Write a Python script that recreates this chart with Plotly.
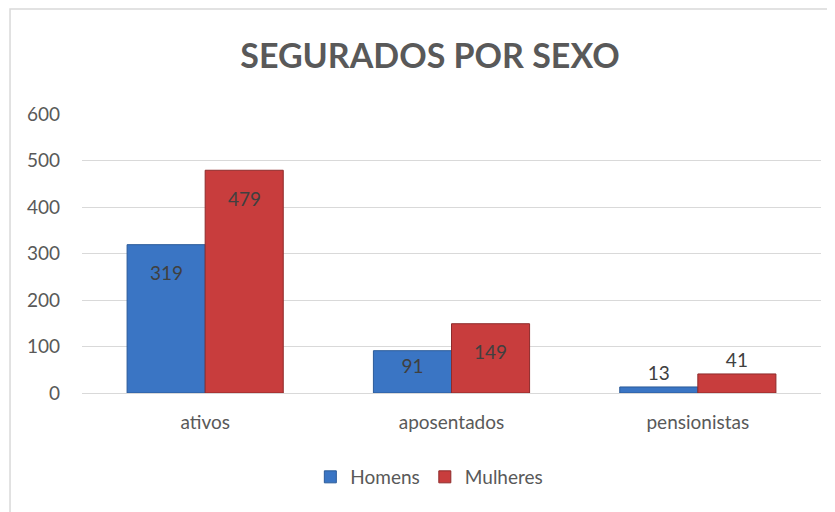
import plotly.graph_objects as go

categories = ["ativos", "aposentados", "pensionistas"]
homens = [319, 91, 13]
mulheres = [479, 149, 41]
series_names = ["Homens", "Mulheres"]
title_text = "SEGURADOS POR SEXO"
y_ticks = [0, 100, 200, 300, 400, 500, 600]

FONT = "Lato, 'Open Sans', sans-serif"
LABEL_FONT = dict(family=FONT, size=19, color="#404040")
BIG = 140  # bars tall enough for a label placed well inside the top

# page body has an 8px margin, so the figure is 8px smaller than the window
W, H = 827, 504
ML, MR = 74, 14
BARGAP = 0.366
cat_px = (W - ML - MR) / len(categories)
half_offset = cat_px * (1 - BARGAP) / 4  # centre of each bar relative to the category centre

fig = go.Figure()
annotations = []
specs = [
    (series_names[0], homens, "#3A75C4", "#2B5B99", -half_offset),
    (series_names[1], mulheres, "#C83D3D", "#8E2B2B", half_offset),
]
for name, vals, col, edge, xs in specs:
    fig.add_trace(go.Bar(
        name=name, x=categories, y=vals,
        marker=dict(color=col, line=dict(color=edge, width=1)),
        texttemplate=["" if v >= BIG else "%{y}" for v in vals],
        textposition=["inside" if v >= 60 else "outside" for v in vals],
        insidetextanchor="end",
        textfont=LABEL_FONT, outsidetextfont=LABEL_FONT,
        cliponaxis=False,
    ))
    for c, v in zip(categories, vals):
        if v >= BIG:
            annotations.append(dict(x=c, y=v, xref="x", yref="y", text=str(v), showarrow=False,
                                    xshift=xs, yshift=-28, yanchor="middle", font=LABEL_FONT))

fig.update_layout(
    width=W, height=H,
    margin=dict(l=ML, r=MR, t=106, b=119),
    paper_bgcolor="white", plot_bgcolor="white",
    barmode="group", bargap=BARGAP, bargroupgap=0,
    font=dict(family=FONT, size=19, color="#595959"),
    title=dict(text="<b>" + title_text + "</b>", x=422 / W, xref="container", xanchor="center",
               y=1 - 48 / H, yref="container", yanchor="middle",
               font=dict(family=FONT, size=34, color="#595959")),
    xaxis=dict(showgrid=False, showline=False, ticks="", ticklabelstandoff=16,
               tickfont=dict(family=FONT, size=19, color="#595959")),
    yaxis=dict(range=[0, 600], tickvals=y_ticks, showgrid=True, gridcolor="#D9D9D9", gridwidth=1,
               zeroline=True, zerolinecolor="#D9D9D9", zerolinewidth=1,
               showline=False, ticks="", ticklabelstandoff=21,
               tickfont=dict(family=FONT, size=19, color="#595959")),
    legend=dict(orientation="h", x=0.47, xanchor="center", y=-0.301, yanchor="middle",
                font=dict(family=FONT, size=19, color="#595959"), itemwidth=30,
                traceorder="normal"),
    showlegend=True,
    annotations=annotations,
    shapes=[dict(type="rect", xref="paper", yref="paper", x0=-0.0974, x1=1.2, y0=-0.6, y1=1.376,
                 line=dict(color="#D9D9D9", width=1.5), fillcolor="rgba(0,0,0,0)", layer="below")],
)

fig.write_html("out.html")
